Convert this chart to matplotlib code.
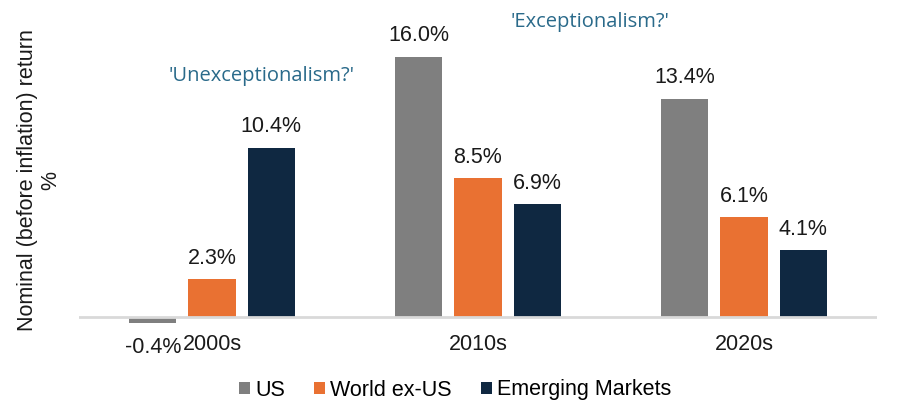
import matplotlib
matplotlib.use("Agg")
import matplotlib.pyplot as plt
import numpy as np

categories = ["2000s", "2010s", "2020s"]
series_names = ["US", "World ex-US", "Emerging Markets"]
us = [-0.4, 16.0, 13.4]
world_ex_us = [2.3, 8.5, 6.1]
emerging = [10.4, 6.9, 4.1]
colors = ["#7F7F7F", "#E97132", "#0F2841"]

plt.rcParams['font.family'] = ['Liberation Sans', 'DejaVu Sans']

FS = 15.5
W, H = 899, 420
fig = plt.figure(figsize=(W / 100, H / 100), dpi=100)
x0, x1 = 79, 877
ymin, ymax = -1.0, 19.0
ppu = 260 / 16.0
zero_px = 316.5
bot_px = zero_px - ymin * ppu
top_px = zero_px - ymax * ppu
ax = fig.add_axes([x0 / W, 1 - bot_px / H, (x1 - x0) / W, (bot_px - top_px) / H])

x = np.arange(len(categories))
bw = 0.177
off = 0.222
all_series = [us, world_ex_us, emerging]
for i, (vals, name, c) in enumerate(zip(all_series, series_names, colors)):
    pos = x + (i - 1) * off
    ax.bar(pos, vals, width=bw, color=c, label=name, zorder=2)
    for p, v in zip(pos, vals):
        if v >= 0:
            ax.annotate(f"{v:.1f}%", (p, v), xytext=(0, 15), textcoords="offset points",
                        ha="center", va="center", fontsize=FS, color="#1a1a1a")
        else:
            ax.annotate(f"{v:.1f}%", (p, 0), xytext=(0, -22.5), textcoords="offset points",
                        ha="center", va="center", fontsize=FS, color="#1a1a1a")

ax.axhline(0, color="#D9D9D9", lw=2, zorder=3)
ax.set_xlim(-0.5, 2.5)
ax.set_ylim(ymin, ymax)
ax.set_yticks([])
ax.set_xticks(x)
ax.set_xticklabels(categories, fontsize=FS, color="#1a1a1a")
ax.tick_params(axis="x", length=0, pad=1)
for s in ax.spines.values():
    s.set_visible(False)

fig.text(262 / W, 1 - 76 / H, "'Unexceptionalism?'", ha="center", va="center",
         fontsize=14.5, color="#2A6A8A", family=["Open Sans", "DejaVu Sans"])
fig.text(590 / W, 1 - 22 / H, "'Exceptionalism?'", ha="center", va="center",
         fontsize=14.5, color="#2A6A8A", family=["Open Sans", "DejaVu Sans"])

fig.text(39.5 / W, 1 - 180 / H, "Nominal (before inflation) return\n%", rotation=90,
         ha="center", va="center", fontsize=FS, color="#1a1a1a", linespacing=1.15)

leg = fig.legend(loc="center", bbox_to_anchor=(455 / W, 1 - 390 / H), ncol=3,
                 frameon=False, fontsize=FS, handlelength=0.5, handleheight=0.5,
                 handletextpad=0.25, columnspacing=1.35)

fig.savefig("out.png", dpi=100)
